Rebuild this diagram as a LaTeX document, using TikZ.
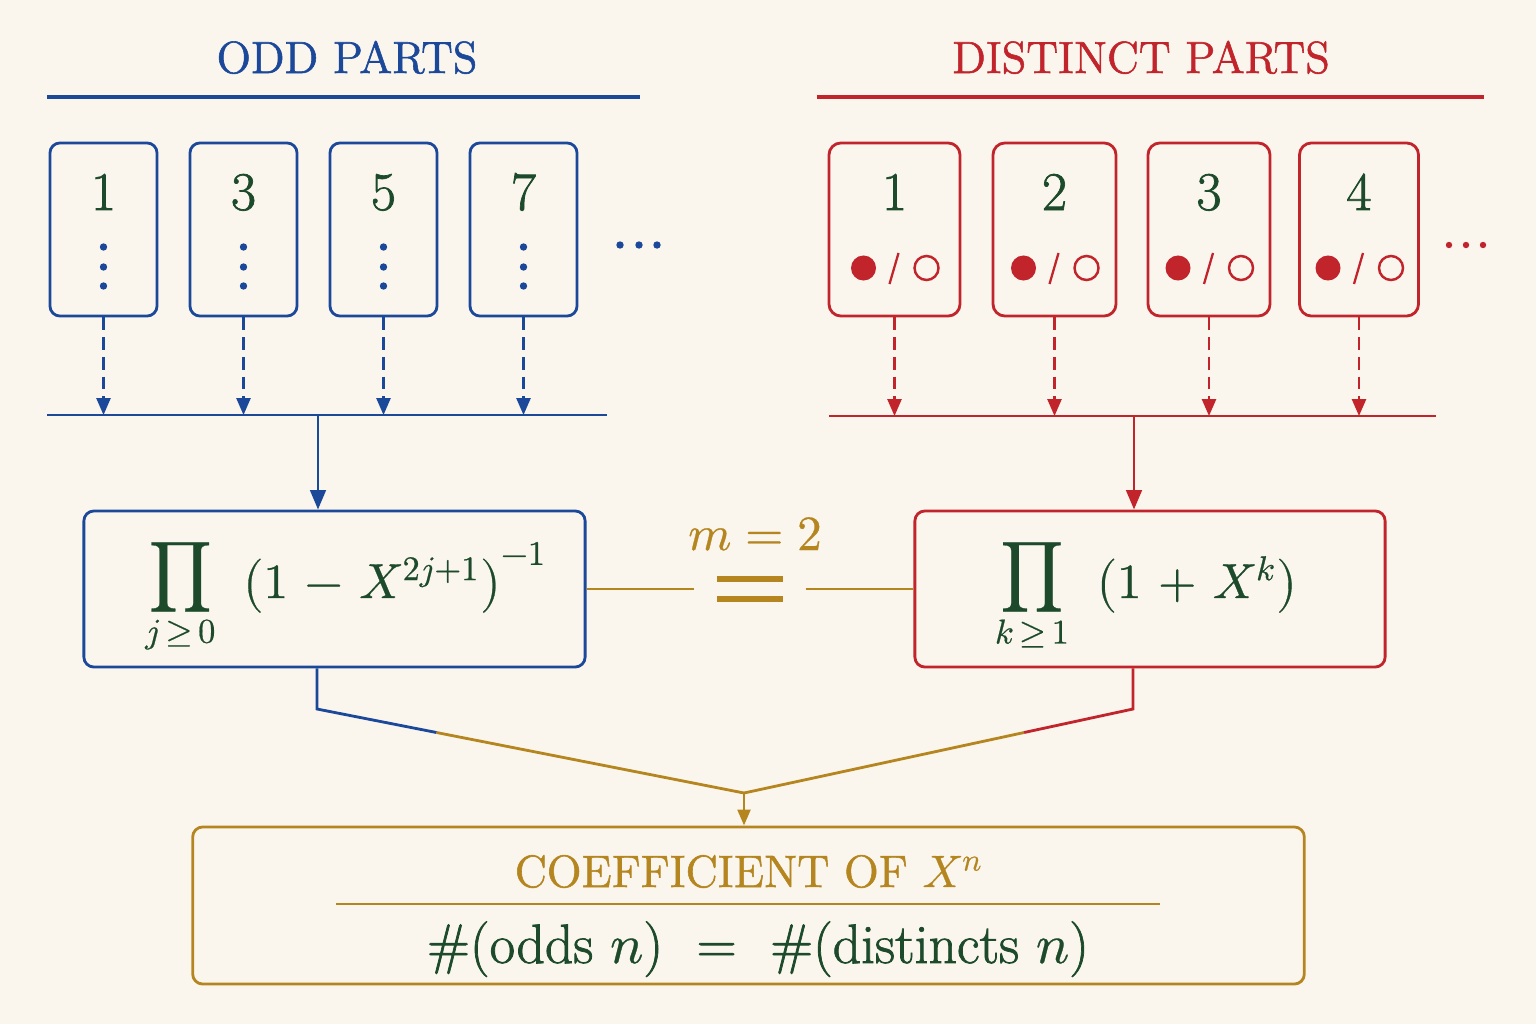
\documentclass[tikz,border=0pt]{standalone}
\usepackage{amsmath}
\usepackage{fontspec}
\usepackage{unicode-math}
\setmathfont{Latin Modern Math}[FakeBold=0.6]
\newfontfamily\heavy{Latin Modern Roman}[FakeBold=1.3]
\usetikzlibrary{arrows.meta,calc}
\definecolor{paper}{HTML}{FAF6EE}
\definecolor{oddblue}{HTML}{1B4899}
\definecolor{distred}{HTML}{C1252B}
\definecolor{gold}{HTML}{B5861F}
\definecolor{ink}{HTML}{1D4A2A}
\begin{document}
\begin{tikzpicture}[x=0.01cm,y=-0.01cm,
  obox/.style={draw=oddblue,line width=0.8pt,rounded corners=0.1cm,minimum width=1.07cm,minimum height=1.73cm,inner sep=0pt},
  dbox/.style={draw=distred,line width=0.8pt,rounded corners=0.12cm,minimum height=1.73cm,inner sep=0pt},
  pbox/.style={line width=0.8pt,rounded corners=0.1cm,minimum height=1.56cm,inner sep=0pt},
  digit/.style={text=ink,font=\heavy\fontsize{15.5}{18}\selectfont,anchor=base},
  heading/.style={font=\heavy\fontsize{12.8}{16}\selectfont,anchor=base},
  formula/.style={text=ink,font=\fontsize{14}{17}\selectfont,anchor=base},
  dasharr/.style={dash pattern=on 3.6pt off 2pt,line width=0.6pt,-{Triangle[length=4.8pt,width=4pt]}},
  mainarr/.style={line width=0.8pt,-{Triangle[length=5.5pt,width=4.4pt]}},
  ]
\useasboundingbox (0,0) rectangle (1536,1024);
\fill[paper] (0,0) rectangle (1536,1024);
% headings
\node[heading,text=oddblue] (oddtitle) at (347,73) {ODD PARTS};
\draw[oddblue,line width=0.9pt] (47,97) -- (640,97);
\node[heading,text=distred] (disttitle) at (1141,73) {DISTINCT PARTS};
\draw[distred,line width=0.9pt] (817,97) -- (1484,97);
% odd parts
\coordinate (obusL) at (47,415);
\coordinate (obusR) at (607,415);
\coordinate (otap) at (318,415);
\foreach \i/\n in {1/1,2/3,3/5,4/7}{
  \pgfmathsetmacro\cx{103.5+140*(\i-1)}
  \node[obox] (odd\i) at (\cx,229.5) {};
  \node[digit] (oddnum\i) at (\cx,210) {\n};
  \foreach \dy in {247,267,286}
    \fill[oddblue] (\cx,\dy) circle (0.037cm);
  \draw[dasharr,oddblue] (odd\i.south) -- (odd\i.south |- obusL);
}
\foreach \x in {620,639,657}
  \fill[oddblue] (\x,245) circle (0.037cm);
\draw[oddblue,line width=0.8pt] (obusL) -- (obusR);
\node[pbox,draw=oddblue,minimum width=5.01cm] (oprod) at (334.5,589) {};
\draw[mainarr,oddblue] (otap) -- (otap |- oprod.north);
\node[formula] (oform) at (346,598)
  {$\medmuskip=6mu\mathop{\raisebox{2.5pt}{$\displaystyle\prod$}}\limits_{j\,\ge\,0}\;\;\bigl(1-X^{2j+1}\bigr)^{-1}$};
% distinct parts
\coordinate (dbusL) at (829,416);
\coordinate (dbusR) at (1436,416);
\coordinate (dtap) at (1134,416);
\foreach \i/\cx/\w in {1/894.5/1.31,2/1054.5/1.23,3/1209/1.22,4/1359/1.19}{
  \node[dbox,minimum width=\w cm] (dist\i) at (\cx,229.5) {};
  \node[digit] (distnum\i) at (\cx,210) {\i};
  \fill[distred] (\cx-31,268) circle (0.125cm);
  \draw[distred,line width=0.7pt] (\cx+32,268) circle (0.12cm);
  \draw[distred,line width=0.65pt] (\cx-5,284) -- (\cx+4,253);
  \draw[dasharr,distred] (dist\i.south) -- (dist\i.south |- dbusL);
}
\foreach \x in {1449,1466,1483}
  \fill[distred] (\x,245) circle (0.032cm);
\draw[distred,line width=0.8pt] (dbusL) -- (dbusR);
\node[pbox,draw=distred,minimum width=4.70cm] (dprod) at (1150,589) {};
\draw[mainarr,distred] (dtap) -- (dtap |- dprod.north);
\node[formula] (dform) at (1146,598)
  {$\medmuskip=6mu\mathop{\raisebox{2.5pt}{$\displaystyle\prod$}}\limits_{k\,\ge\,1}\;\;\bigl(1+X^k\bigr)$};
% equality
\node[minimum width=1.10cm,minimum height=0.5cm,inner sep=0pt] (eq) at (750,589) {};
\draw[gold,line width=1.7pt] ($(eq.center)+(-33,-10)$) -- ++(66,0);
\draw[gold,line width=1.7pt] ($(eq.center)+(-33,10)$) -- ++(66,0);
\node[text=gold,font=\fontsize{14}{16}\selectfont,anchor=base] (mlabel) at (755,550) {$m = 2$};
\draw[gold,line width=0.75pt] (oprod.east) -- (eq.west);
\draw[gold,line width=0.75pt] (eq.east) -- (dprod.west);
% coefficient
\node[pbox,draw=gold,minimum width=11.11cm,minimum height=1.57cm] (coef) at (748.5,905.5) {};
\coordinate (merge) at (744,793);
\coordinate (ojoin) at (317,709);
\coordinate (djoin) at (1133,709);
\draw[oddblue,line width=0.8pt] (ojoin |- oprod.south) -- (ojoin) -- ($(ojoin)!0.28!(merge)$) coordinate (omid);
\draw[gold,line width=0.8pt] (omid) -- (merge);
\draw[distred,line width=0.8pt] (djoin |- dprod.south) -- (djoin) -- ($(djoin)!0.28!(merge)$) coordinate (dmid);
\draw[gold,line width=0.8pt] (dmid) -- (merge);
\draw[gold,line width=0.8pt,-{Triangle[length=4.5pt,width=3.6pt]}] (merge) -- (merge |- coef.north);
\node[heading,text=gold,font=\heavy\fontsize{12.9}{16}\selectfont] (coeftitle) at (749,887) {COEFFICIENT OF $X^n$};
\draw[gold,line width=0.6pt] (336,904) -- (1160,904);
\node[text=ink,font=\heavy\fontsize{15.8}{19}\selectfont,anchor=base] (coefeq) at (758,963)
  {\#(odds $n$)~~=~~\#(distincts $n$)};
\end{tikzpicture}
\end{document}
